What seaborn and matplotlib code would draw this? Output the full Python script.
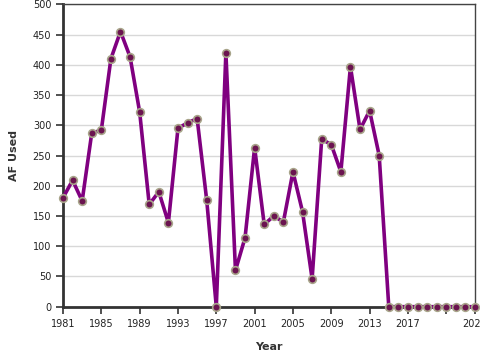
import matplotlib
matplotlib.use("Agg")
import matplotlib.pyplot as plt
import seaborn as sns
import pandas as pd

years = list(range(1981, 2025))
af_used = [180, 209, 175, 287, 292, 410, 455, 413, 322, 169,
           190, 139, 295, 304, 311, 176, 0, 420, 60, 114,
           263, 136, 150, 140, 223, 157, 46, 277, 268, 223,
           397, 293, 324, 250, 0, 0, 0, 0, 0, 0,
           0, 0, 0, 0]
xticks = [1981, 1985, 1989, 1993, 1997, 2001, 2005, 2009, 2013, 2017, 2021, 2024]
xtick_labels = ["1981", "1985", "1989", "1993", "1997", "2001", "2005", "2009", "2013", "2017", "", "2024"]
yticks = [0, 50, 100, 150, 200, 250, 300, 350, 400, 450, 500]

df = pd.DataFrame({"Year": years, "AF Used": af_used})

sns.set_theme(style="white")
plt.rcParams['font.family'] = ['DejaVu Sans']

fig = plt.figure(figsize=(4.8, 3.6), dpi=100)
ax = fig.add_axes([63/480, 1-306.7/360, (475-63)/480, (306.7-4.3)/360])

sns.lineplot(data=df, x="Year", y="AF Used", ax=ax, color="#800080", linewidth=2.6,
             marker="o", markersize=5.5, markerfacecolor="#6b1450",
             markeredgecolor="#a8a48a", markeredgewidth=1.2, zorder=3)

ax.set_xlim(1981, 2024)
ax.set_ylim(0, 500)
ax.set_xticks(xticks)
ax.set_xticklabels(xtick_labels)
ax.set_yticks(yticks)
ax.yaxis.grid(True, color="#d8d8d8", linewidth=1)
ax.xaxis.grid(False)
ax.tick_params(axis="both", which="both", direction="out", length=5, width=1.2,
               colors="#333333", labelsize=7, labelcolor="#222222", bottom=True, left=True)
for s in ["left", "bottom"]:
    ax.spines[s].set_color("#333333")
    ax.spines[s].set_linewidth(2)
for s in ["top", "right"]:
    ax.spines[s].set_color("#444444")
    ax.spines[s].set_linewidth(1)
ax.set_xlabel("Year", fontsize=8, fontweight="bold", color="#333333", labelpad=10)
ax.set_ylabel("AF Used", fontsize=8, fontweight="bold", color="#333333", labelpad=10)
for line in ax.lines:
    line.set_clip_on(False)

fig.savefig("out.png", dpi=100)
